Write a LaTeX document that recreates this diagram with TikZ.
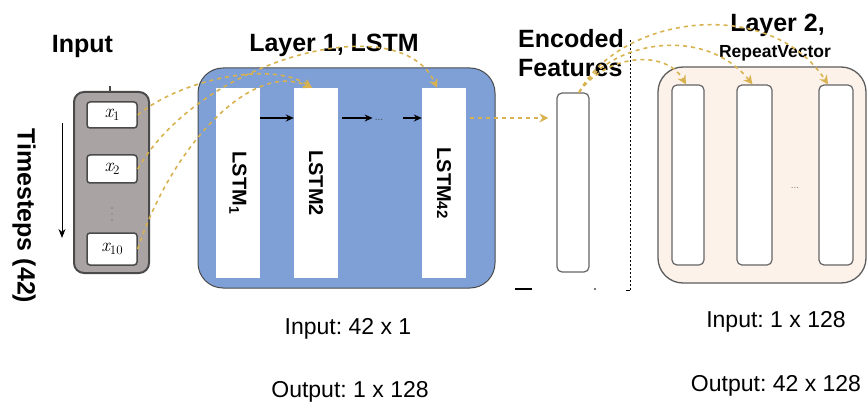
\documentclass[tikz,border=0pt]{standalone}
\usepackage{fontspec}
\setmainfont{Liberation Sans}
\newfontfamily\lmfont{Latin Modern Roman}
\frenchspacing
\usetikzlibrary{arrows.meta}
\definecolor{blueL}{HTML}{7EA0D7}
\definecolor{grayIn}{HTML}{A9A4A3}
\definecolor{peach}{HTML}{FDF2EA}
\definecolor{gold}{HTML}{D8B24E}
\definecolor{edge}{HTML}{4A4A4A}
\newcommand{\xsub}[1]{{\lmfont\itshape x}{\lmfont\fontsize{13}{13}\selectfont\raisebox{-3pt}{#1}}}
\tikzset{
  title/.style={font=\fontsize{25}{29}\selectfont\bfseries, anchor=base, inner sep=0pt},
  info/.style={font=\fontsize{23}{27}\selectfont, anchor=base, inner sep=0pt},
  inbox/.style={draw=edge, line width=1.5pt, fill=white, rounded corners=3pt, minimum width=50pt, inner sep=0pt, font=\fontsize{19}{19}\selectfont},
  cell/.style={fill=white, minimum width=44pt, minimum height=190pt, inner sep=0pt},
  vecbox/.style={draw=edge!85, line width=1.2pt, fill=white, rounded corners=5pt, minimum height=180pt, inner sep=0pt},
  cellname/.style={font=\fontsize{20}{20}\selectfont\bfseries, rotate=-90, inner sep=0pt},
  flow/.style={draw=gold, line width=1.6pt, dash pattern=on 4pt off 4pt, -{Stealth[length=9pt,width=9pt]}},
  blk/.style={draw=black, line width=1.3pt, -{Stealth[length=8pt,width=7pt]}},
  smalldots/.style={text=gray, font=\fontsize{10}{10}\selectfont, inner sep=0pt}
}
\begin{document}
\begin{tikzpicture}[x=1pt,y=-1pt]
\useasboundingbox (0,0) rectangle (868,417);

% ---------- Input ----------
\node[title] (tin) at (82.5,53) {Input};
\node[draw=edge, line width=2pt, fill=grayIn, rounded corners=10pt, minimum width=75pt, minimum height=181pt] (inp) at (111.5,182.5) {};
\coordinate (tick) at (110,86);
\draw[edge, line width=1.5pt] (tick) -- (inp.north -| tick);
\node[inbox, minimum height=26pt] (x1) at (112,115) {\xsub{1}};
\node[inbox, minimum height=28pt] (x2) at (112,169) {\xsub{2}};
\node[inbox, minimum height=32pt] (x10) at (112,249) {\xsub{10}};
\coordinate (vd1) at (112,208);
\coordinate (vd2) at (112,214);
\coordinate (vd3) at (112,220);
\fill[gray] (vd1) circle (0.9pt) (vd2) circle (0.9pt) (vd3) circle (0.9pt);

\coordinate (ts1) at (62,123);
\coordinate (ts2) at (62,238);
\draw[line width=1pt, -{Stealth[length=9pt,width=7pt]}] (ts1) -- (ts2);
\node[font=\fontsize{25}{25}\selectfont\bfseries, rotate=-90, inner sep=0pt] (tsl) at (24,216) {Timesteps (42)};

% ---------- Layer 1 ----------
\node[title] (t1) at (334,52) {Layer 1, LSTM};
\node[draw=edge, line width=1pt, fill=blueL, rounded corners=25pt, minimum width=297pt, minimum height=220pt] (L1) at (346.5,178) {};
\node[cell] (l1) at (238,183) {};
\node[cell] (l2) at (316,183) {};
\node[cell] (l42) at (444,183) {};
\node[cellname] (n1) at (l1) {LSTM\textsubscript{1}};
\node[cellname] (n2) at (l2) {LSTM2};
\node[cellname] (n42) at (l42) {LSTM{\fontsize{15}{15}\selectfont 42}};

\coordinate (row) at (0,118);
\draw[blk] (l1.east |- row) -- (l2.west |- row);
\coordinate (a2s) at (342,118);
\node[font=\fontsize{10}{10}\selectfont, inner sep=0pt, text=edge] (ld) at (379,120) {...};
\draw[blk] (a2s) -- ([xshift=-2pt]ld.west |- row);
\coordinate (a3s) at (403,118);
\draw[blk] (a3s) -- (l42.west |- row);

\node[info] (i1) at (348,334) {Input: 42 x 1};
\node[info] (o1) at (350,397) {Output: 1 x 128};

% ---------- Encoded features ----------
\node[title, anchor=base west] (te1) at (518,48) {Encoded};
\node[title, anchor=base west] (te2) at (518,77) {Features};
\node[vecbox, minimum width=32pt, minimum height=179pt] (enc) at (573,182.5) {};

\coordinate (dv1) at (630,40);
\coordinate (dv2) at (630,290);
\draw[line width=1pt, dash pattern=on 2pt off 2pt] (dv1) -- (dv2);
\coordinate (dv3) at (626,290);
\draw[line width=1pt] (dv3) -- (dv2);
\coordinate (m1) at (515,289);
\coordinate (m2) at (532,289);
\draw[line width=2pt] (m1) -- (m2);
\coordinate (m3) at (595,289);
\fill[edge] (m3) circle (1.2pt);

% ---------- Layer 2 ----------
\node[title] (t2) at (777.5,32) {Layer 2,};
\node[font=\fontsize{17.5}{20}\selectfont\bfseries, anchor=base, inner sep=0pt] (rv) at (775,58) {RepeatVector};
\node[draw=edge!90, line width=1.3pt, fill=peach, rounded corners=25pt, minimum width=208pt, minimum height=216pt] (L2) at (762,175) {};
\node[vecbox, minimum width=32pt] (r1) at (688,175) {};
\node[vecbox, minimum width=35pt] (r2) at (754.5,175) {};
\node[vecbox, minimum width=34pt] (r3) at (836,175) {};
\node[smalldots] (d2) at (795,188) {...};

\node[info] (i2) at (776,327) {Input: 1 x 128};
\node[info] (o2) at (776,391) {Output: 42 x 128};

% ---------- Yellow flows ----------
\draw[flow] (x1.east) .. controls (180,80) and (270,60) .. ([xshift=-4pt]l2.north);
\draw[flow] (x2.east) .. controls (200,60) and (400,5) .. ([xshift=-7pt]l42.north);
\draw[flow] (x10.east) .. controls (170,150) and (250,60) .. ([xshift=-4pt]l2.north);
\draw[flow, shorten >=8pt] ([xshift=4pt]l42.east |- row) -- (enc.west |- row);
\draw[flow] ([xshift=6pt]enc.north) .. controls (605,55) and (665,48) .. ([xshift=-2pt]r1.north);
\draw[flow] ([xshift=6pt]enc.north) .. controls (610,40) and (705,25) .. ([xshift=-2pt]r2.north);
\draw[flow] ([xshift=6pt]enc.north) .. controls (620,15) and (770,-5) .. ([xshift=-8pt]r3.north);
\end{tikzpicture}
\end{document}
